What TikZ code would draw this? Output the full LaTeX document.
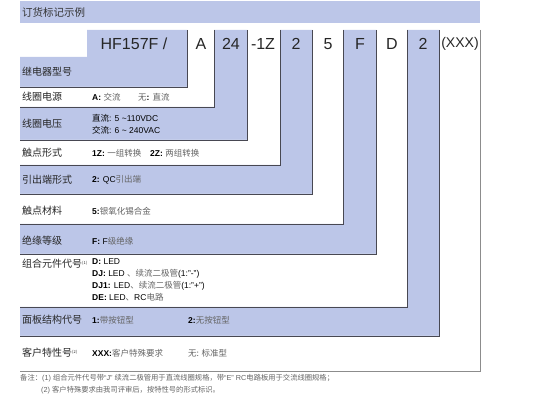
\documentclass[tikz,border=0pt]{standalone}
\usepackage{fontspec}
\setmainfont{Liberation Sans}
\newfontfamily\cjk{Noto Sans CJK SC}
\newcommand{\zh}[1]{{\cjk #1}}
\newcommand{\zg}[1]{{\cjk\color{descgray}#1}}
\definecolor{bandblue}{RGB}{188,198,232}
\definecolor{edgegray}{RGB}{72,72,82}
\definecolor{descgray}{RGB}{100,100,100}
\begin{document}
\begin{tikzpicture}[x=1pt,y=-1pt,
  rim/.style={edgegray,line width=0.9pt},
  code/.style={inner sep=0pt,font=\fontsize{16}{16}\selectfont,text=black!85},
  lbl/.style={anchor=west,inner sep=0pt,font=\fontsize{10}{10}\selectfont\cjk,text=black!85},
  desc/.style={anchor=west,inner sep=0pt,font=\fontsize{8.5}{12}\selectfont,align=left},
  note/.style={anchor=west,inner sep=0pt,font=\fontsize{7.3}{8}\selectfont,text=descgray}]
  \useasboundingbox (0,0) rectangle (542,401);
  \fill[bandblue] (20,1) rectangle (480,23);
  \node[anchor=west,inner sep=0pt,font=\fontsize{10.5}{11}\selectfont\cjk,text=black!80] (title) at (22,12) {订货标记示例};

  \fill[bandblue] (20,57) -| (87,30) -| (187,87) -- (20,87) -- cycle;
  \fill[white] (20,87) -| (187,30) -| (214,107) -- (20,107) -- cycle;
  \fill[bandblue] (20,107) -| (214,30) -| (247,140) -- (20,140) -- cycle;
  \fill[white] (20,140) -| (247,30) -| (280,165) -- (20,165) -- cycle;
  \fill[bandblue] (20,165) -| (280,30) -| (312,194) -- (20,194) -- cycle;
  \fill[white] (20,194) -| (312,30) -| (343,224) -- (20,224) -- cycle;
  \fill[bandblue] (20,224) -| (343,30) -| (376,254) -- (20,254) -- cycle;
  \fill[white] (20,254) -| (376,30) -| (407,307) -- (20,307) -- cycle;
  \fill[bandblue] (20,307) -| (407,30) -| (439,336) -- (20,336) -- cycle;
  \fill[white] (20,336) -| (439,30) -| (480,371) -- (20,371) -- cycle;

  \draw[rim] (187,30) -- (187,87) -- (20,87);
  \draw[rim] (214,30) -- (214,107) -- (20,107);
  \draw[rim] (247,30) -- (247,140) -- (20,140);
  \draw[rim] (280,30) -- (280,165) -- (20,165);
  \draw[rim] (312,30) -- (312,194) -- (20,194);
  \draw[rim] (343,30) -- (343,224) -- (20,224);
  \draw[rim] (376,30) -- (376,254) -- (20,254);
  \draw[rim] (407,30) -- (407,307) -- (20,307);
  \draw[rim] (439,30) -- (439,336) -- (20,336);
  \draw[rim,black!45] (480,30) -- (480,371) -- (20,371);

  \node[code] (cHF) at (134,44) {HF157F /};
  \node[code] (cA) at (201,44) {A};
  \node[code] (c24) at (231,44) {24};
  \node[code] (c1Z) at (263,44) {-1Z};
  \node[code] (cQC) at (296,44) {2};
  \node[code] (cAg) at (328,44) {5};
  \node[code] (cF) at (360,44) {F};
  \node[code] (cD) at (392,44) {D};
  \node[code] (cPn) at (423,44) {2};
  \node[code,font=\fontsize{14}{14}\selectfont] (cX) at (460,44) {(XXX)};

  \node[lbl] (lHF) at (22,72) {继电器型号};
  \node[lbl] (lA) at (22,97) {线圈电源};
  \node[desc] (dA) at (92,97) {\textbf{A:} \zg{交流}};
  \node[desc] (dA2) at (138,97) {\zg{无}\textbf{:} \zg{直流}};
  \node[lbl] (l24) at (22,124) {线圈电压};
  \node[desc] (d24) at (92,124) {\zh{直流}: 5 \textasciitilde110VDC\\\zh{交流}: 6 \textasciitilde\ 240VAC};
  \node[lbl] (l1Z) at (22,153) {触点形式};
  \node[desc] (d1Z) at (92,153) {\textbf{1Z:} \zg{一组转换}};
  \node[desc] (d2Z) at (150,153) {\textbf{2Z:} \zg{两组转换}};
  \node[lbl] (lQC) at (22,180) {引出端形式};
  \node[desc] (dQC) at (92,180) {\textbf{2:} QC\zg{引出端}};
  \node[lbl] (lAg) at (22,211) {触点材料};
  \node[desc] (dAg) at (92,211) {\textbf{5:}\zg{银氧化锡合金}};
  \node[lbl] (lF) at (22,241) {绝缘等级};
  \node[desc] (dF) at (92,241) {\textbf{F:} F\zg{级绝缘}};
  \node[lbl] (lD) at (22,264) {组合元件代号\textsuperscript{\fontsize{4}{4}\selectfont(1)}};
  \node[desc,anchor=north west] (dD) at (92,258) {\textbf{D:} LED\\\textbf{DJ:} LED \zg{、续流二极管}(1:"-")\\\textbf{DJ1:} LED\zg{、续流二极管}(1:"+")\\\textbf{DE:} LED\zg{、}RC\zg{电路}};
  \node[lbl] (lPn) at (22,320) {面板结构代号};
  \node[desc] (dPn) at (92,320) {\textbf{1:}\zg{带按钮型}};
  \node[desc] (dPn2) at (188,320) {\textbf{2:}\zg{无按钮型}};
  \node[lbl] (lX) at (22,353) {客户特性号\textsuperscript{\fontsize{4}{4}\selectfont(2)}};
  \node[desc] (dX) at (92,353) {\textbf{XXX:}\zg{客户特殊要求}};
  \node[desc] (dX2) at (188,353) {\zg{无: 标准型}};

  \node[note] (n1) at (20,378) {\zh{备注：}(1) \zh{组合元件代号带}“J” \zh{续流二极管用于直流线圈规格，带}“E” RC\zh{电路板用于交流线圈规格；}};
  \node[note] (n2) at (41,390) {(2) \zh{客户特殊要求由我司评审后，按特性号的形式标识。}};
\end{tikzpicture}
\end{document}
